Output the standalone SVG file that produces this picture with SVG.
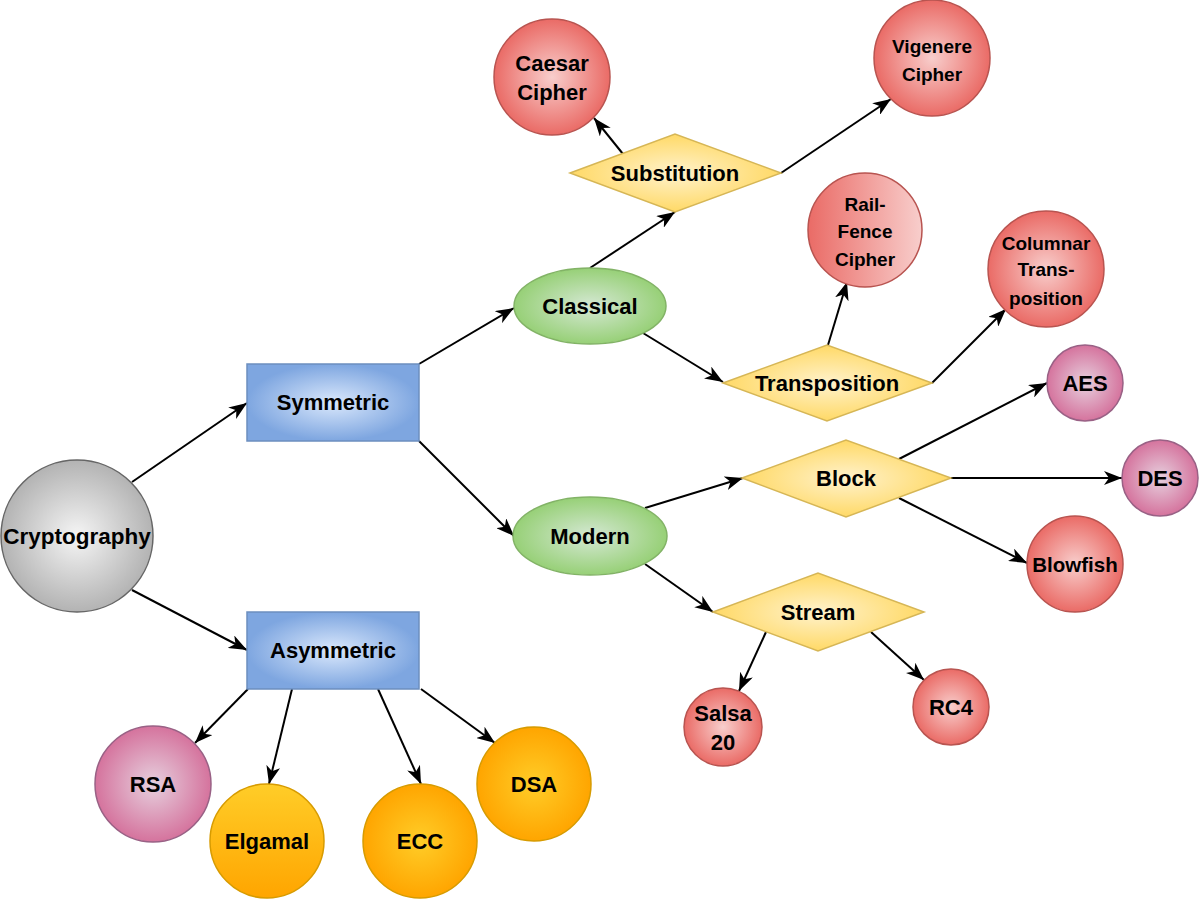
<svg xmlns="http://www.w3.org/2000/svg" width="1200" height="900" viewBox="0 0 1200 900">
  <defs>
    <radialGradient id="gGray"><stop offset="0" stop-color="#f5f5f5"/><stop offset="1" stop-color="#b3b3b3"/></radialGradient>
    <radialGradient id="gBlue"><stop offset="0" stop-color="#dae8fc"/><stop offset="1" stop-color="#7ea6e0"/></radialGradient>
    <radialGradient id="gGreen"><stop offset="0" stop-color="#d5e8d4"/><stop offset="1" stop-color="#97d077"/></radialGradient>
    <radialGradient id="gYellow"><stop offset="0" stop-color="#fff2cc"/><stop offset="1" stop-color="#ffd966"/></radialGradient>
    <radialGradient id="gRed"><stop offset="0" stop-color="#f8cecc"/><stop offset="1" stop-color="#ea6b66"/></radialGradient>
    <linearGradient id="gRedH" x1="0" y1="0" x2="1" y2="0"><stop offset="0" stop-color="#ea6b66"/><stop offset="1" stop-color="#f8cecc"/></linearGradient>
    <radialGradient id="gPurple"><stop offset="0" stop-color="#e6d0de"/><stop offset="1" stop-color="#d5739d"/></radialGradient>
    <radialGradient id="gOrange"><stop offset="0" stop-color="#ffcd28"/><stop offset="1" stop-color="#ffa500"/></radialGradient>
    <linearGradient id="gOrangeV" x1="0" y1="0" x2="0" y2="1"><stop offset="0" stop-color="#ffcd28"/><stop offset="1" stop-color="#ffa500"/></linearGradient>
    <marker id="arrow" viewBox="0 0 18 14" refX="18" refY="7" markerWidth="18" markerHeight="14" markerUnits="userSpaceOnUse" orient="auto">
      <path d="M0,0 L18,7 L0,14 L5,7 Z" fill="#000"/>
    </marker>
  </defs>
  <style>
    text { font-family: "Liberation Sans", Arial, sans-serif; font-weight: bold; fill: #000; text-anchor: middle; font-size: 22px; }
    .sm { font-size: 19px; }
    .gray { fill: url(#gGray); stroke: #666666; stroke-width: 1.5; }
    .blue { fill: url(#gBlue); stroke: #6c8ebf; stroke-width: 1.5; }
    .green { fill: url(#gGreen); stroke: #82b366; stroke-width: 1.5; }
    .yellow { fill: url(#gYellow); stroke: #d6b656; stroke-width: 1.5; }
    .red { fill: url(#gRed); stroke: #b85450; stroke-width: 1.5; }
    .redh { fill: url(#gRedH); stroke: #b85450; stroke-width: 1.5; }
    .purple { fill: url(#gPurple); stroke: #996185; stroke-width: 1.5; }
    .orange { fill: url(#gOrange); stroke: #d79b00; stroke-width: 1.5; }
    .orangev { fill: url(#gOrangeV); stroke: #d79b00; stroke-width: 1.5; }
    .edge { stroke: #000; stroke-width: 2; fill: none; marker-end: url(#arrow); }
  </style>
  <rect width="1200" height="900" fill="#ffffff"/>

  <g id="connectors">
    <path class="edge" d="M132,482 L247,403"/>
    <path class="edge" d="M132,590 L247,650"/>
    <path class="edge" d="M419,364 L514,308"/>
    <path class="edge" d="M419,441 L514,536"/>
    <path class="edge" d="M590,268 L675,212"/>
    <path class="edge" d="M623,154 L594,118"/>
    <path class="edge" d="M781,173 L891,99"/>
    <path class="edge" d="M643,333 L723,382"/>
    <path class="edge" d="M828,345 L847,282"/>
    <path class="edge" d="M932,383 L1006,309"/>
    <path class="edge" d="M645,508 L743,478"/>
    <path class="edge" d="M645,564 L713,612"/>
    <path class="edge" d="M899,459 L1047,383"/>
    <path class="edge" d="M951,478 L1122,478"/>
    <path class="edge" d="M899,498 L1027,563"/>
    <path class="edge" d="M766,632 L739,691"/>
    <path class="edge" d="M871,632 L924,680"/>
    <path class="edge" d="M248,689 L195,743"/>
    <path class="edge" d="M292,689 L269,784"/>
    <path class="edge" d="M378,689 L421,784"/>
    <path class="edge" d="M421,689 L495,743"/>
  </g>

  <g id="node-cryptography">
    <circle class="gray" cx="77" cy="536" r="76"/>
    <text x="77" y="544" style="font-size:22.5px">Cryptography</text>
  </g>
  <g id="node-symmetric">
    <rect class="blue" x="247" y="364" width="172" height="77"/>
    <text x="333" y="410">Symmetric</text>
  </g>
  <g id="node-asymmetric">
    <rect class="blue" x="247" y="612" width="172" height="77"/>
    <text x="333" y="658">Asymmetric</text>
  </g>
  <g id="node-classical">
    <ellipse class="green" cx="590" cy="306" rx="76" ry="38"/>
    <text x="590" y="314">Classical</text>
  </g>
  <g id="node-modern">
    <ellipse class="green" cx="590" cy="536" rx="77" ry="39"/>
    <text x="590" y="544">Modern</text>
  </g>
  <g id="node-substitution">
    <polygon class="yellow" points="570,173 675,134 781,173 675,212"/>
    <text x="675" y="181">Substitution</text>
  </g>
  <g id="node-transposition">
    <polygon class="yellow" points="723,383 827,345 932,383 827,421"/>
    <text x="827" y="391">Transposition</text>
  </g>
  <g id="node-block">
    <polygon class="yellow" points="742,478 846,440 951,478 846,517"/>
    <text x="846" y="486">Block</text>
  </g>
  <g id="node-stream">
    <polygon class="yellow" points="713,612 818,573 924,612 818,651"/>
    <text x="818" y="620">Stream</text>
  </g>
  <g id="node-caesar">
    <circle class="red" cx="552" cy="77" r="58"/>
    <text x="552" y="71">Caesar</text>
    <text x="552" y="100">Cipher</text>
  </g>
  <g id="node-vigenere">
    <circle class="red" cx="932" cy="58" r="58"/>
    <text class="sm" x="932" y="53">Vigenere</text>
    <text class="sm" x="932" y="81">Cipher</text>
  </g>
  <g id="node-railfence">
    <circle class="redh" cx="865" cy="230" r="57"/>
    <text class="sm" x="865" y="211">Rail-</text>
    <text class="sm" x="865" y="238">Fence</text>
    <text class="sm" x="865" y="266">Cipher</text>
  </g>
  <g id="node-columnar">
    <circle class="red" cx="1046" cy="269" r="58"/>
    <text class="sm" x="1046" y="250">Columnar</text>
    <text class="sm" x="1046" y="276">Trans-</text>
    <text class="sm" x="1046" y="305">position</text>
  </g>
  <g id="node-aes">
    <circle class="purple" cx="1085" cy="383" r="38"/>
    <text x="1085" y="391">AES</text>
  </g>
  <g id="node-des">
    <circle class="purple" cx="1160" cy="478" r="38"/>
    <text x="1160" y="486">DES</text>
  </g>
  <g id="node-blowfish">
    <circle class="red" cx="1075" cy="564" r="48"/>
    <text x="1075" y="572" style="font-size:20.5px">Blowfish</text>
  </g>
  <g id="node-salsa20">
    <circle class="red" cx="723" cy="727" r="39"/>
    <text x="723" y="721">Salsa</text>
    <text x="723" y="750">20</text>
  </g>
  <g id="node-rc4">
    <circle class="red" cx="951" cy="707" r="38"/>
    <text x="951" y="715">RC4</text>
  </g>
  <g id="node-rsa">
    <circle class="purple" cx="153" cy="784" r="58"/>
    <text x="153" y="792">RSA</text>
  </g>
  <g id="node-elgamal">
    <circle class="orangev" cx="267" cy="841" r="57"/>
    <text x="267" y="849">Elgamal</text>
  </g>
  <g id="node-ecc">
    <circle class="orange" cx="420" cy="841" r="57"/>
    <text x="420" y="849">ECC</text>
  </g>
  <g id="node-dsa">
    <circle class="orange" cx="534" cy="784" r="57"/>
    <text x="534" y="792">DSA</text>
  </g>
</svg>
